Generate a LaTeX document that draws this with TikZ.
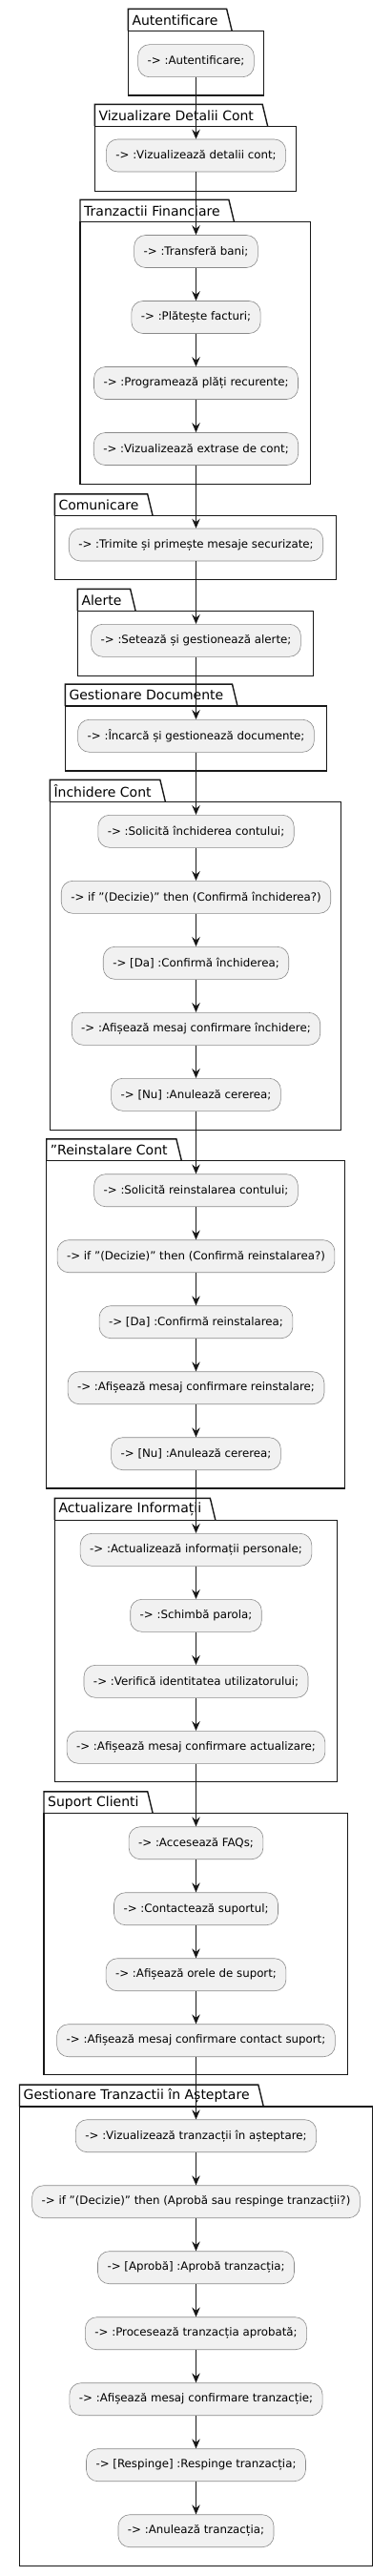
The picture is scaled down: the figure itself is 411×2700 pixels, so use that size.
\documentclass[tikz,border=0pt]{standalone}
\usepackage{fontspec}
\setmainfont{DejaVu Sans}
\usetikzlibrary{arrows.meta,positioning,calc}
\definecolor{Ink}{HTML}{181818}
\definecolor{ActFill}{HTML}{F1F1F1}
\definecolor{ActLine}{HTML}{8A8A8A}
\tikzset{
  >=Stealth,
  act/.style={draw=ActLine,line width=.6pt,rounded corners=12pt,fill=ActFill,text=black,font=\fontsize{11.8}{14}\selectfont,minimum height=34pt,inner xsep=10pt,inner ysep=0pt},
  pkgtitle/.style={anchor=south west,inner sep=0pt,minimum height=22.5pt,text=black,font=\fontsize{14}{16}\selectfont},
  pkgline/.style={draw=Ink,line width=1.4pt},
  flow/.style={-{Stealth[length=10pt,width=8.5pt,inset=3.5pt]},line width=1pt,draw=Ink}
}

\begin{document}
\begin{tikzpicture}[x=1pt,y=-1pt]
  \useasboundingbox (0,0) rectangle (411,2700);
  \foreach \k/\l/\t/\r/\b/\ttl in {1/134.3/32.3/276.7/100/Autentificare,2/99.3/132.3/310.7/200.3/Vizualizare Detalii Cont,3/84/232.3/325.7/507.3/Tranzactii Financiare,
    4/57.3/540.7/352.7/607.3/Comunicare,5/81.3/640.3/328.7/708.7/Alerte,6/68.3/740/342.7/808/Gestionare Documente,7/52.3/840.3/357.7/1184.3/Închidere Cont,
    8/48.7/1216.7/361.7/1560/"Reinstalare Cont,9/57.3/1593.3/353.7/1867.3/Actualizare Informații,10/46/1900.7/364.7/2174.7/Suport Clienti,
    11/20.5/2208/390.7/2689.3/Gestionare Tranzactii în Așteptare}{
    \draw[pkgline] (\l,\t) rectangle (\r,\b);
    \coordinate (f\k) at (\l,\t);
    \node[pkgtitle] (t\k) at ([xshift=4pt]f\k) {\ttl};
    \draw[pkgline] (f\k) |- ([xshift=9pt]t\k.north east) -- ([xshift=14.5pt]t\k.south east);
  }
  \foreach \i/\y/\txt in {1/63.7/{-> :Autentificare;},2/163/{-> :Vizualizează detalii cont;},
    3/263.5/{-> :Transferă bani;},4/332.5/{-> :Plătește facturi;},5/401.5/{-> :Programează plăți recurente;},6/470.5/{-> :Vizualizează extrase de cont;},
    7/571/{-> :Trimite și primește mesaje securizate;},8/671.3/{-> :Setează și gestionează alerte;},9/771.3/{-> :Încarcă și gestionează documente;},
    10/871.3/{-> :Solicită închiderea contului;},11/940.3/{-> if "(Decizie)" then (Confirmă închiderea?)},12/1009.3/{-> [Da] :Confirmă închiderea;},13/1078.3/{-> :Afișează mesaj confirmare închidere;},14/1147.3/{-> [Nu] :Anulează cererea;},
    15/1247.7/{-> :Solicită reinstalarea contului;},16/1316.7/{-> if "(Decizie)" then (Confirmă reinstalarea?)},17/1385.7/{-> [Da] :Confirmă reinstalarea;},18/1454.7/{-> :Afișează mesaj confirmare reinstalare;},19/1523.7/{-> [Nu] :Anulează cererea;},
    20/1624.3/{-> :Actualizează informații personale;},21/1693.3/{-> :Schimbă parola;},22/1762.3/{-> :Verifică identitatea utilizatorului;},23/1831.3/{-> :Afișează mesaj confirmare actualizare;},
    24/1931.7/{-> :Accesează FAQs;},25/2000.7/{-> :Contactează suportul;},26/2069.7/{-> :Afișează orele de suport;},27/2138.7/{-> :Afișează mesaj confirmare contact suport;},
    28/2238.7/{-> :Vizualizează tranzacții în așteptare;},29/2307.7/{-> if "(Decizie)" then (Aprobă sau respinge tranzacții?)},30/2376.7/{-> [Aprobă] :Aprobă tranzacția;},31/2445.7/{-> :Procesează tranzacția aprobată;},32/2514.7/{-> :Afișează mesaj confirmare tranzacție;},33/2583.7/{-> [Respinge] :Respinge tranzacția;},34/2652.7/{-> :Anulează tranzacția;}}{
    \node[act] (n\i) at (205.5,\y) {\txt};
  }
  \foreach \i in {1,...,33}{\pgfmathtruncatemacro{\s}{\i+1}\draw[flow] (n\i)--(n\s);}
\end{tikzpicture}
\end{document}
